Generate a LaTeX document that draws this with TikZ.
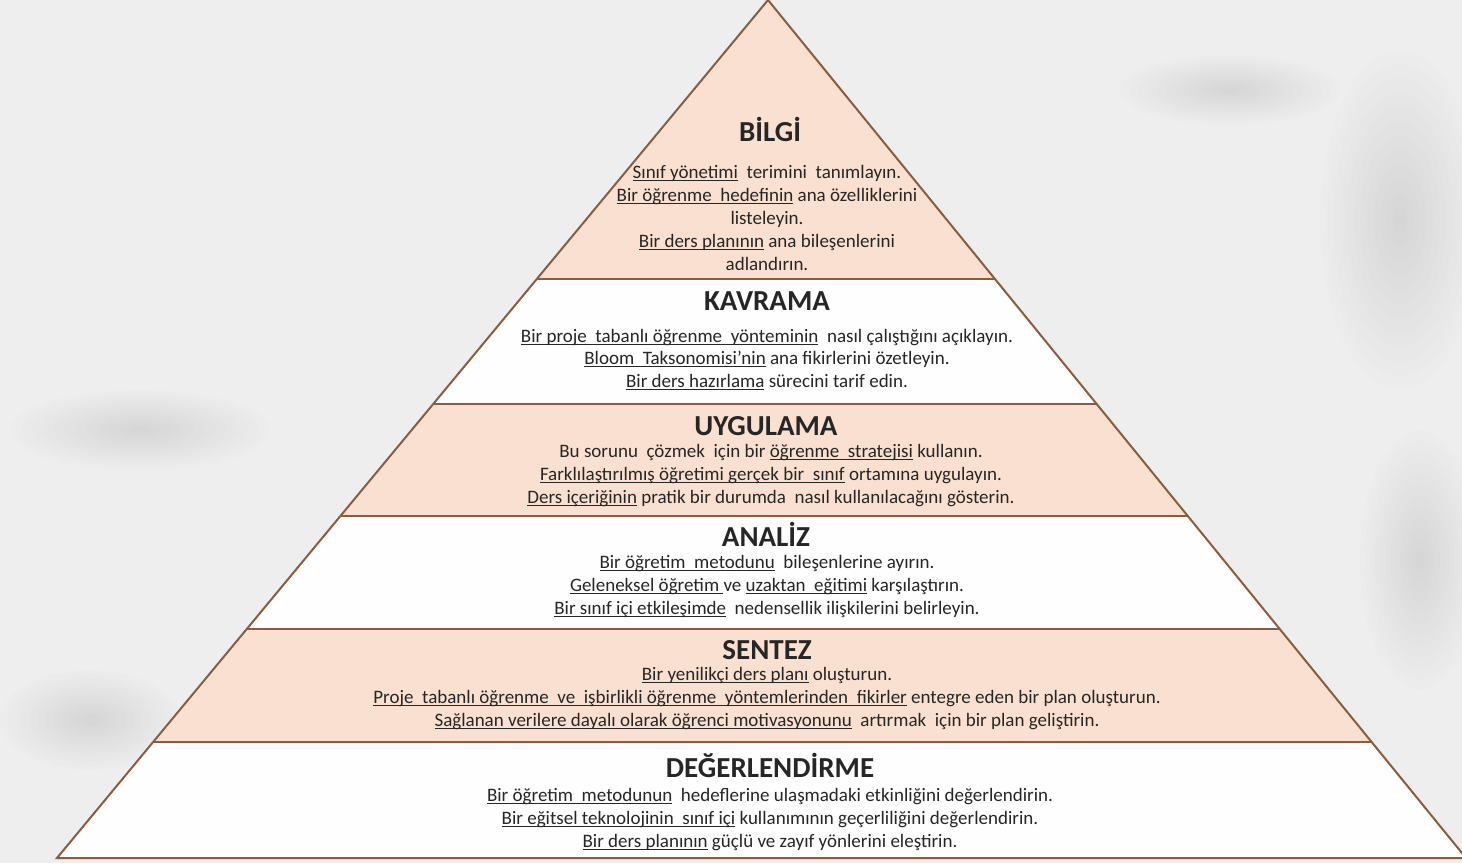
\documentclass[tikz,border=0pt]{standalone}
\usepackage{fontspec}
\setmainfont{Carlito}
\usetikzlibrary{calc}
\definecolor{peach}{RGB}{250,224,208}
\definecolor{edgebrown}{RGB}{140,92,62}
\definecolor{txt}{RGB}{38,38,38}
\definecolor{bg}{RGB}{238,238,238}
\definecolor{offwhite}{RGB}{254,254,254}
\newcommand{\uln}[1]{\setbox0\hbox{#1}\rlap{\rule[-3.2pt]{\wd0}{1.2pt}}\box0\relax}
\begin{document}
\begin{tikzpicture}[x=1pt,y=-1pt,
  lvltitle/.style={anchor=base, inner sep=0pt, font=\fontsize{29}{33}\selectfont\bfseries, text=txt},
  bodyline/.style={anchor=base, inner sep=0pt, font=\fontsize{19}{22}\selectfont, text=txt},
  divider/.style={draw=edgebrown, line width=2pt},
  outline/.style={draw=edgebrown, line width=2pt, line join=miter},
  haze/.style={fill=gray, opacity=0.012},
]
\useasboundingbox (0,0) rectangle (1462,863);
\fill[bg] (0,0) rectangle (1462,863);
\begin{scope}
\clip (0,0) rectangle (1462,863);
% subtle background texture (soft haze)
\foreach \px/\py/\rx/\ry in {1400/220/80/170, 1420/560/60/130, 140/430/130/40, 1230/90/110/35, 90/720/90/50}
  \foreach \k in {1,...,12}
    \fill[haze] (\px,\py) ellipse ({\rx*\k/12} and {\ry*\k/12});
\coordinate (apex) at (768,0);
\coordinate (bl) at (57,858);
\coordinate (br) at (1466,858);
\foreach \a/\b/\c in {0/0.3252/peach, 0.3252/0.4709/offwhite, 0.4709/0.6014/peach, 0.6014/0.7331/offwhite, 0.7331/0.8648/peach, 0.8648/1/offwhite}
  \fill[\c] ($(apex)!\a!(bl)$) -- ($(apex)!\a!(br)$) -- ($(apex)!\b!(br)$) -- ($(apex)!\b!(bl)$) -- cycle;
\foreach \a in {0.3252,0.4709,0.6014,0.7331,0.8648}
  \draw[divider] ($(apex)!\a!(bl)$) -- ($(apex)!\a!(br)$);
\draw[outline] (bl) -- (apex) -- (br) -- cycle;
\end{scope}

% BİLGİ
\node[lvltitle] (t1) at (770,141) {BİLGİ};
\node[bodyline] (b11) at (767,178) {\uln{Sınıf yönetimi}\ \ terimini\ \ tanımlayın.};
\node[bodyline] (b12) at (767,201) {\uln{Bir öğrenme\ \ hedefinin} ana özelliklerini};
\node[bodyline] (b13) at (767,224) {listeleyin.};
\node[bodyline] (b14) at (767,247) {\uln{Bir ders planının} ana bileşenlerini};
\node[bodyline] (b15) at (767,270) {adlandırın.};
% KAVRAMA
\node[lvltitle] (t2) at (767,310) {KAVRAMA};
\node[bodyline] (b21) at (767,342) {\uln{Bir proje\ \ tabanlı öğrenme\ \ yönteminin}\ \ nasıl çalıştığını açıklayın.};
\node[bodyline] (b22) at (767,364) {\uln{Bloom\ \ Taksonomisi'nin} ana fikirlerini özetleyin.};
\node[bodyline] (b23) at (767,387) {\uln{Bir ders hazırlama} sürecini tarif edin.};
% UYGULAMA
\node[lvltitle] (t3) at (766,435) {UYGULAMA};
\node[bodyline] (b31) at (771,457) {Bu sorunu\ \ çözmek\ \ için bir \uln{öğrenme\ \ stratejisi} kullanın.};
\node[bodyline] (b32) at (771,480) {\uln{Farklılaştırılmış öğretimi gerçek bir\ \ sınıf} ortamına uygulayın.};
\node[bodyline] (b33) at (771,503) {\uln{Ders içeriğinin} pratik bir durumda\ \ nasıl kullanılacağını gösterin.};
% ANALİZ
\node[lvltitle] (t4) at (766,546) {ANALİZ};
\node[bodyline] (b41) at (767,568) {\uln{Bir öğretim\ \ metodunu}\ \ bileşenlerine ayırın.};
\node[bodyline] (b42) at (767,591) {\uln{Geleneksel öğretim\ }ve \uln{uzaktan\ \ eğitimi} karşılaştırın.};
\node[bodyline] (b43) at (767,614) {\uln{Bir sınıf içi etkileşimde}\ \ nedensellik ilişkilerini belirleyin.};
% SENTEZ
\node[lvltitle] (t5) at (767,659) {SENTEZ};
\node[bodyline] (b51) at (767,680) {\uln{Bir yenilikçi ders planı} oluşturun.};
\node[bodyline] (b52) at (767,703) {\uln{Proje\ \ tabanlı öğrenme\ \ ve\ \ işbirlikli öğrenme\ \ yöntemlerinden\ \ fikirler} entegre eden bir plan oluşturun.};
\node[bodyline] (b53) at (767,726) {\uln{Sağlanan verilere dayalı olarak öğrenci motivasyonunu}\ \ artırmak\ \ için bir plan geliştirin.};
% DEĞERLENDİRME
\node[lvltitle] (t6) at (770,777) {DEĞERLENDİRME};
\node[bodyline] (b61) at (770,801) {\uln{Bir öğretim\ \ metodunun}\ \ hedeflerine ulaşmadaki etkinliğini değerlendirin.};
\node[bodyline] (b62) at (770,824) {\uln{Bir eğitsel teknolojinin\ \ sınıf içi} kullanımının geçerliliğini değerlendirin.};
\node[bodyline] (b63) at (770,847) {\uln{Bir ders planının} güçlü ve zayıf yönlerini eleştirin.};
\end{tikzpicture}
\end{document}
